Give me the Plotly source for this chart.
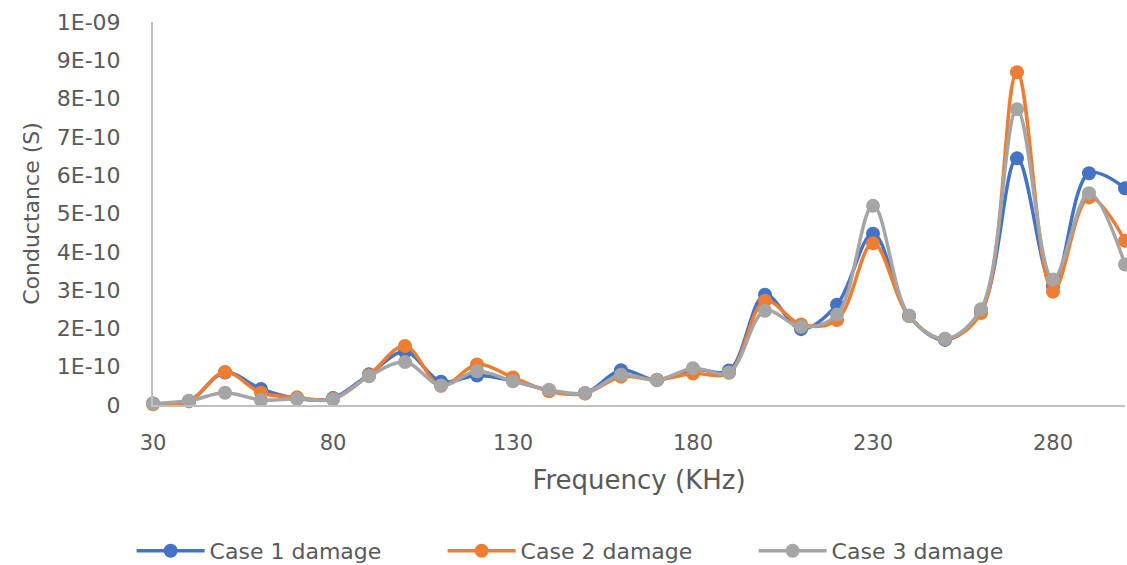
import plotly.graph_objects as go

freq = [30, 40, 50, 60, 70, 80, 90, 100, 110, 120, 130, 140, 150, 160, 170, 180, 190,
        200, 210, 220, 230, 240, 250, 260, 270, 280, 290, 300]

# values in units of 1E-10 S
case1 = [0.04, 0.10, 0.85, 0.42, 0.17, 0.18, 0.80, 1.39, 0.61, 0.77, 0.63, 0.38, 0.31, 0.91,
         0.65, 0.93, 0.90, 2.88, 1.98, 2.62, 4.47, 2.33, 1.70, 2.45, 6.44, 3.10, 6.05, 5.66]
case2 = [0.02, 0.10, 0.86, 0.32, 0.20, 0.16, 0.78, 1.54, 0.50, 1.06, 0.72, 0.36, 0.30, 0.74,
         0.66, 0.82, 0.84, 2.72, 2.10, 2.22, 4.22, 2.32, 1.72, 2.40, 8.69, 2.96, 5.42, 4.29]
case3 = [0.04, 0.11, 0.32, 0.13, 0.16, 0.15, 0.75, 1.12, 0.51, 0.88, 0.62, 0.40, 0.31, 0.79,
         0.65, 0.96, 0.85, 2.46, 2.04, 2.36, 5.20, 2.33, 1.73, 2.50, 7.72, 3.28, 5.53, 3.67]

names = ["Case 1 damage", "Case 2 damage", "Case 3 damage"]
colors = ["#4472C4", "#ED7D31", "#A5A5A5"]

ytickvals = [i * 1e-10 for i in range(11)]
yticktext = ["0", "1E-10", "2E-10", "3E-10", "4E-10", "5E-10", "6E-10", "7E-10",
             "8E-10", "9E-10", "1E-09"]
xtickvals = [30, 80, 130, 180, 230, 280]

fig = go.Figure()
for name, vals, col in zip(names, [case1, case2, case3], colors):
    fig.add_trace(go.Scatter(
        x=freq, y=[v * 1e-10 for v in vals], name=name, mode="lines+markers",
        line=dict(color=col, width=3.5, shape="spline", smoothing=1),
        marker=dict(color=col, size=14, line=dict(width=0)),
        cliponaxis=False,
    ))

font_family = "DejaVu Sans"
fig.update_layout(
    width=1127, height=565,
    margin=dict(l=153, r=2, t=22, b=160, autoexpand=False),
    paper_bgcolor="white", plot_bgcolor="white",
    font=dict(family=font_family, color="#595959"),
    showlegend=True,
    legend=dict(orientation="h", x=-0.022, xanchor="left", y=-0.381, yanchor="middle",
                font=dict(size=22, color="#595959"), itemwidth=68,
                entrywidth=228, traceorder="normal"),
    xaxis=dict(range=[30, 300], tickvals=xtickvals, ticktext=[str(v) for v in xtickvals],
               automargin=False,
               showgrid=False, zeroline=False, showline=True, linecolor="#BFBFBF",
               linewidth=2, ticks="", tickfont=dict(size=21, color="#595959"),
               ticklabelstandoff=18,
               title=dict(text="Frequency (KHz)", font=dict(size=26, color="#595959"),
                          standoff=17)),
    yaxis=dict(range=[0, 1e-9], tickvals=ytickvals, ticktext=yticktext,
               automargin=False,
               showgrid=False, zeroline=False, showline=True, linecolor="#BFBFBF",
               linewidth=2, ticks="", tickfont=dict(size=22, color="#595959"),
               ticklabelstandoff=26,
               title=dict(text="Conductance (S)", font=dict(size=22, color="#595959"),
                          standoff=11)),
)

fig.write_html(
    "out.html",
    config={"displayModeBar": False},
    post_script=("document.body.style.margin='0';"
                 "document.body.style.overflow='hidden';"
                 "document.documentElement.style.overflow='hidden';"),
)
